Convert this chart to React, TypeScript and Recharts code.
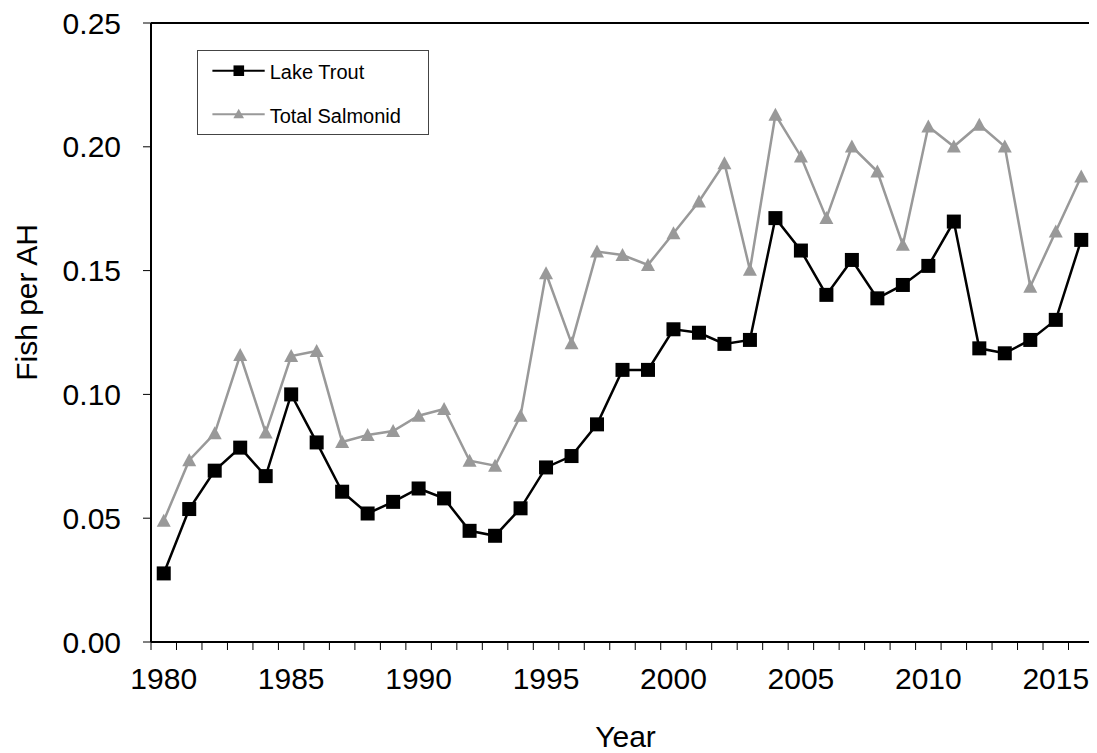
import React from 'react';
import { LineChart, Line, XAxis, YAxis, Legend, Label, ReferenceLine } from 'recharts';

const years = [
  1980, 1981, 1982, 1983, 1984, 1985, 1986, 1987, 1988, 1989,
  1990, 1991, 1992, 1993, 1994, 1995, 1996, 1997, 1998, 1999,
  2000, 2001, 2002, 2003, 2004, 2005, 2006, 2007, 2008, 2009,
  2010, 2011, 2012, 2013, 2014, 2015, 2016,
];

const lakeTrout = [
  0.0277, 0.0537, 0.0692, 0.0785, 0.067, 0.1, 0.0806, 0.0607, 0.0519, 0.0566,
  0.062, 0.058, 0.0449, 0.0429, 0.054, 0.0705, 0.0751, 0.0879, 0.1099, 0.1099,
  0.1263, 0.1249, 0.1204, 0.122, 0.1712, 0.1581, 0.1402, 0.1543, 0.1388, 0.1442,
  0.1519, 0.1698, 0.1186, 0.1166, 0.122, 0.1301, 0.1624,
];

const totalSalmonid = [
  0.049, 0.0734, 0.0843, 0.1159, 0.0846, 0.1155, 0.1175, 0.0808, 0.0836, 0.0852,
  0.0914, 0.0941, 0.0732, 0.0712, 0.0914, 0.1489, 0.1207, 0.1577, 0.1563, 0.1523,
  0.1651, 0.1779, 0.1934, 0.1503, 0.2129, 0.1961, 0.1712, 0.2001, 0.19, 0.1604,
  0.2082, 0.2001, 0.2089, 0.2001, 0.1435, 0.1658, 0.188,
];

const yearLabels = [1980, 1985, 1990, 1995, 2000, 2005, 2010, 2015];
const yTicks = [0, 0.05, 0.1, 0.15, 0.2, 0.25];
const seriesNames = ['Lake Trout', 'Total Salmonid'];

const boundaryTicks = [...years.map((y) => y - 0.5), years[years.length - 1] + 0.5];
const xDomain = [boundaryTicks[0], boundaryTicks[boundaryTicks.length - 1]];
const yDomain = [yTicks[0], yTicks[yTicks.length - 1]];

const data = years.map((year, i) => ({
  year,
  lakeTrout: lakeTrout[i],
  totalSalmonid: totalSalmonid[i],
}));

const FONT = '"Liberation Sans", Arial, Helvetica, sans-serif';
const GRAY = '#999999';

const SquareDot = (props: any) => {
  const { cx, cy, index } = props;
  if (cx == null || cy == null) return <g key={`sq-${index}`} />;
  return <rect key={`sq-${index}`} x={cx - 7} y={cy - 7} width={14} height={14} fill="#000" />;
};

const TriangleDot = (props: any) => {
  const { cx, cy, index } = props;
  if (cx == null || cy == null) return <g key={`tr-${index}`} />;
  return (
    <polygon
      key={`tr-${index}`}
      points={`${cx},${cy - 7} ${cx - 7},${cy + 6} ${cx + 7},${cy + 6}`}
      fill={GRAY}
    />
  );
};

const EmptyTick = () => <g />;

const LegendContent = (props: any) => {
  const payload = props.payload || [];
  const rowY = [19.7, 63.3];
  return (
    <svg width={230} height={83} style={{ display: 'block' }}>
      {payload.map((entry: any, i: number) => {
        const y = rowY[i] ?? 20 + i * 44;
        const isSquare = entry.dataKey === 'lakeTrout';
        const color = isSquare ? '#000' : GRAY;
        return (
          <g key={entry.value}>
            <line x1={14.4} x2={66.7} y1={y} y2={y} stroke={color} strokeWidth={2} />
            {isSquare ? (
              <rect x={35.5} y={y - 5.3} width={10.6} height={10.6} fill="#000" />
            ) : (
              <polygon points={`${40.7},${y - 5.5} ${35.4},${y + 4} ${46},${y + 4}`} fill={GRAY} />
            )}
            <text x={71.7} y={y + 8.3} fontSize={20} fontFamily={FONT} fill="#000">
              {entry.value}
            </text>
          </g>
        );
      })}
    </svg>
  );
};

export default function App() {
  return (
    <div style={{ width: 1089, height: 745, fontFamily: FONT }}>
      <LineChart
        width={1089}
        height={745}
        data={data}
        margin={{ top: 15, right: 3, bottom: 0, left: 0 }}
        style={{ fontFamily: FONT }}
      >
        <XAxis
          xAxisId="b-labels"
          dataKey="year"
          type="number"
          domain={xDomain}
          allowDataOverflow
          ticks={yearLabels}
          interval={0}
          height={101}
          tickSize={0}
          tickMargin={16}
          tickLine={false}
          axisLine={false}
          tick={{ fontSize: 30, fill: '#000', fontFamily: FONT }}
        >
          <Label
            value="Year"
            position="insideBottom"
            offset={6}
            dx={3}
            style={{ fontSize: 30, fill: '#000', fontFamily: FONT }}
          />
        </XAxis>
        <XAxis
          xAxisId="a-main"
          dataKey="year"
          type="number"
          domain={xDomain}
          allowDataOverflow
          ticks={boundaryTicks}
          interval={0}
          height={10}
          tick={EmptyTick}
          tickSize={8}
          tickLine={{ stroke: '#000', strokeWidth: 1 }}
          axisLine={{ stroke: '#000', strokeWidth: 2 }}
        />
        <YAxis
          domain={yDomain}
          ticks={yTicks}
          interval={0}
          width={143}
          tickSize={8}
          tickMargin={22}
          tickFormatter={(v: number) => v.toFixed(2)}
          tickLine={{ stroke: '#000', strokeWidth: 1 }}
          axisLine={{ stroke: '#000', strokeWidth: 2 }}
          tick={{ fontSize: 30, fill: '#000', fontFamily: FONT }}
        >
          <Label
            content={() => (
              <text
                x={0}
                y={0}
                transform="translate(28.7, 294.5) rotate(-90)"
                textAnchor="middle"
                fontSize={30}
                fontFamily={FONT}
                fill="#000"
              >
                Fish per AH
              </text>
            )}
          />
        </YAxis>
        <ReferenceLine xAxisId="a-main" y={yDomain[1]} stroke="#000" strokeWidth={2} ifOverflow="extendDomain" />
        <ReferenceLine xAxisId="a-main" x={xDomain[1]} stroke="#000" strokeWidth={2} ifOverflow="extendDomain" />
        <Legend
          layout="vertical"
          verticalAlign="middle"
          align="center"
          content={LegendContent}
          wrapperStyle={{
            position: 'absolute',
            left: 189.3,
            top: 42,
            width: 232,
            height: 85,
            border: '1px solid #444',
            boxSizing: 'border-box',
            background: '#fff',
            margin: 0,
            padding: 0,
          }}
        />
        <Line
          xAxisId="a-main"
          dataKey="lakeTrout"
          name={seriesNames[0]}
          stroke="#000"
          strokeWidth={2.5}
          dot={SquareDot}
          activeDot={false}
          isAnimationActive={false}
        />
        <Line
          xAxisId="a-main"
          dataKey="totalSalmonid"
          name={seriesNames[1]}
          stroke={GRAY}
          strokeWidth={2.5}
          dot={TriangleDot}
          activeDot={false}
          isAnimationActive={false}
        />
      </LineChart>
    </div>
  );
}
